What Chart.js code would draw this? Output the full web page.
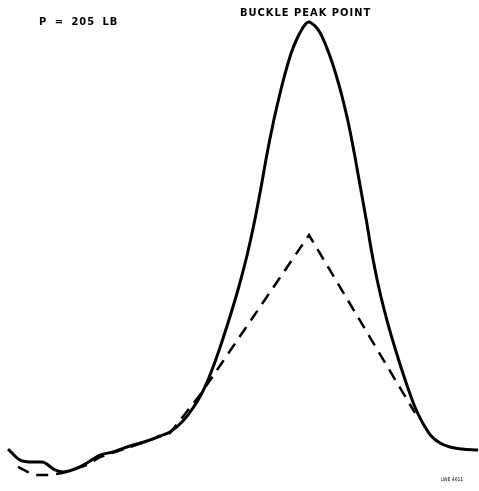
<!DOCTYPE html>
<html>
<head>
<meta charset="utf-8">
<script src="https://cdn.jsdelivr.net/npm/chart.js@4"></script>
<style>
  body { margin: 0; background: #fff; }
  #wrap { position: relative; width: 479px; height: 491px; }
  .lbl { position: absolute; font-family: "DejaVu Sans Condensed", "DejaVu Sans", sans-serif; font-weight: bold; color: #000; white-space: nowrap; letter-spacing: 1px; }
</style>
</head>
<body>
<div id="wrap">
  <canvas id="buckleChart" width="479" height="491"></canvas>
  <div class="lbl" style="left:39px; top:15px; font-size:11px; word-spacing:3px;">P = 205 LB</div>
  <div class="lbl" style="left:240px; top:6px; font-size:11px;">BUCKLE PEAK POINT</div>
  <div class="lbl" style="left:441px; top:476px; font-size:5px; font-weight:normal; letter-spacing:0;">LWE 4611</div>
</div>
<script>
// Position along the specimen and deflection (arbitrary units)
const solidX = [1.67, 4.18, 6.89, 8.77, 11.48, 13.15, 15.66, 18.16, 20.88, 23.59, 27.14, 30.69, 33.40, 35.49,
    38.20, 40.29, 42.17, 43.84, 45.39, 47.66, 49.85, 51.59, 53.11, 54.47, 55.70, 57.08, 58.23, 59.06, 60.02, 61.02, 62.17, 63.26, 63.88,
    64.51,
    65.14, 65.87, 66.85, 68.08, 69.31, 70.35, 71.34, 72.59, 73.92, 75.16, 76.47, 77.60, 79.06, 80.83, 82.78, 84.66, 86.53, 88.25, 90.02, 91.86, 93.95, 96.45, 99.79];
const solidY = [8.55, 6.31, 5.91, 5.91, 4.28, 3.87, 4.48, 5.70, 7.33, 7.94, 9.16, 10.18, 11.20, 12.02,
    14.26, 16.90, 19.96, 23.63, 27.70, 34.42, 41.55, 48.07, 54.79, 61.71, 68.43, 75.15, 80.04, 83.30, 86.76, 89.82, 92.46, 94.40, 95.19,
    95.52,
    95.19, 94.60, 93.28, 90.63, 87.37, 84.11, 80.65, 75.56, 69.04, 62.32, 55.19, 48.68, 41.55, 34.62, 28.11, 22.40, 17.31, 13.85, 11.20, 9.78, 8.96, 8.55, 8.35];

// Dashed comparison line: follows the curve at both ends, straight up to the peak
const dashX = [3.76, 5.85, 7.31, 10.44, 12.94, 18.16, 20.88, 27.14, 35.49, 41.75, 64.51, 86.64];
const dashY = [4.89, 3.87, 3.26, 3.26, 3.67, 5.30, 6.92, 8.96, 11.81, 19.55, 52.14, 15.89];

function toPoints(xs, ys) {
    return xs.map((x, i) => ({ x: x, y: ys[i] }));
}

const ctx = document.getElementById('buckleChart').getContext('2d');
new Chart(ctx, {
    type: 'scatter',
    data: {
        datasets: [
            {
                label: 'Measured',
                data: toPoints(solidX, solidY),
                showLine: true,
                borderColor: '#000',
                borderWidth: 3,
                pointRadius: 0,
                cubicInterpolationMode: 'monotone'
            },
            {
                label: 'Linear',
                data: toPoints(dashX, dashY),
                showLine: true,
                borderColor: '#000',
                borderWidth: 2.5,
                borderDash: [12, 8],
                pointRadius: 0,
                tension: 0
            }
        ]
    },
    options: {
        responsive: false,
        animation: false,
        layout: { padding: 0 },
        plugins: { legend: { display: false }, tooltip: { enabled: false } },
        scales: {
            x: { type: 'linear', min: 0, max: 100, display: false },
            y: { type: 'linear', min: 0, max: 100, display: false }
        }
    }
});
</script>
</body>
</html>
